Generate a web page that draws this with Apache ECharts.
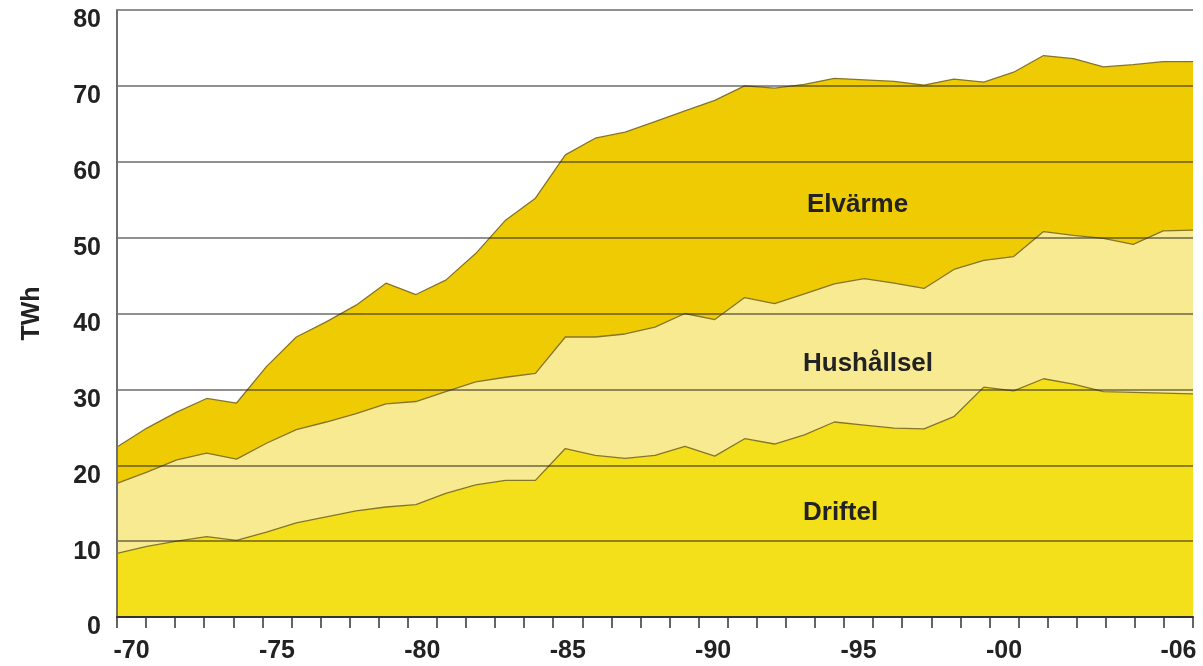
<!DOCTYPE html>
<html>
<head>
<meta charset="utf-8">
<script src="https://cdn.jsdelivr.net/npm/echarts@6/dist/echarts.min.js"></script>
<style>
  html, body { margin: 0; padding: 0; background: #fff; }
  #chart { width: 1203px; height: 666px; }
</style>
</head>
<body>
<div id="chart"></div>
<script>
// years 1970 - 2006
let years = []
for (let y = 1970; y <= 2006; y++) years.push(String(y))
let shownYears = ['1970', '1975', '1980', '1985', '1990', '1995', '2000', '2006']

// TWh (stacked: Driftel at bottom)
let driftel = [8.4, 9.3, 10.0, 10.6, 10.1, 11.2, 12.4, 13.2, 14.0, 14.5, 14.8, 16.3, 17.4, 18.0, 18.0, 22.2, 21.3, 20.9, 21.3, 22.5, 21.2, 23.5, 22.8, 24.0, 25.7, 25.3, 24.9, 24.8, 26.4, 30.3, 29.8, 31.4, 30.7, 29.7, 29.6, 29.5, 29.4]
let hushallsel = [9.2, 9.8, 10.7, 11.0, 10.7, 11.7, 12.3, 12.5, 12.8, 13.6, 13.6, 13.4, 13.6, 13.6, 14.1, 14.7, 15.6, 16.4, 16.9, 17.5, 18.0, 18.6, 18.5, 18.6, 18.2, 19.3, 19.1, 18.5, 19.4, 16.7, 17.7, 19.4, 19.6, 20.2, 19.5, 21.4, 21.6]
let elvarme = [4.8, 5.8, 6.3, 7.2, 7.4, 10.1, 12.2, 13.2, 14.3, 15.9, 14.1, 14.7, 16.9, 20.7, 23.1, 24.0, 26.2, 26.6, 27.1, 26.7, 28.9, 27.9, 28.4, 27.6, 27.1, 26.2, 26.6, 26.8, 25.1, 23.5, 24.3, 23.2, 23.3, 22.6, 23.7, 22.3, 22.2]

let chart = echarts.init(document.getElementById('chart'))
let font = "'Liberation Sans', Arial, Helvetica, sans-serif"
let edge = '#85752a'
let ink = '#222'

function areaSeries(name, data, color) {
  return {
    name: name,
    type: 'line',
    stack: 'total',
    xAxisIndex: 1,
    data: data,
    symbol: 'none',
    lineStyle: { color: edge, width: 1.3 },
    areaStyle: { color: color, opacity: 1 },
    z: 2
  }
}

function areaLabel(text, x, y) {
  return {
    type: 'text', x: x, y: y, z: 10,
    style: {
      text: text, fill: ink, font: 'bold 26px ' + font,
      align: 'left', verticalAlign: 'middle'
    }
  }
}

let option = {
  animation: false,
  grid: { left: 117, right: 10, top: 10, bottom: 49 },
  xAxis: [{
    type: 'category',
    data: years,
    boundaryGap: true,
    z: 5,
    axisLine: { lineStyle: { color: '#333', width: 2 } },
    axisTick: { show: true, interval: 0, length: 11, lineStyle: { color: '#333', width: 1.5 } },
    axisLabel: {
      show: true,
      interval: 0,
      margin: 22,
      color: ink,
      fontSize: 25,
      fontWeight: 'bold',
      fontFamily: font,
      formatter: function (v) {
        return shownYears.indexOf(v) >= 0 ? '-' + v.slice(2) : ''
      }
    },
    splitLine: { show: false }
  }, {
    type: 'category',
    data: years,
    boundaryGap: false,
    show: false
  }],
  yAxis: {
    type: 'value',
    min: 0,
    max: 80,
    interval: 10,
    z: 5,
    name: 'TWh',
    nameLocation: 'middle',
    nameGap: 72,
    nameTextStyle: { color: ink, fontSize: 25, fontWeight: 'bold', fontFamily: font },
    axisLine: { show: true, lineStyle: { color: '#707070', width: 2 } },
    axisTick: { show: false },
    axisLabel: {
      color: ink, fontSize: 25, fontWeight: 'bold', fontFamily: font,
      margin: 16, verticalAlign: 'top', lineHeight: 21
    },
    splitLine: { lineStyle: { color: 'rgba(40,35,30,0.5)', width: 2 } }
  },
  series: [
    areaSeries('Driftel', driftel, '#f3df1a'),
    areaSeries('Hushållsel', hushallsel, '#f8ea90'),
    areaSeries('Elvärme', elvarme, '#eecb02')
  ],
  graphic: [
    areaLabel('Elvärme', 807, 205),
    areaLabel('Hushållsel', 803, 364),
    areaLabel('Driftel', 803, 513)
  ]
}
chart.setOption(option)
</script>
</body>
</html>
